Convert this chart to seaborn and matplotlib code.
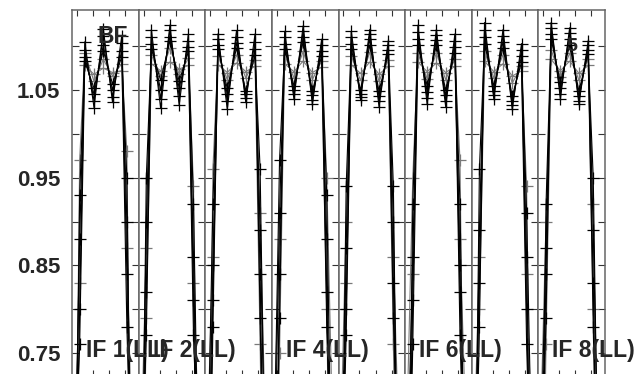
import pandas as pd
import matplotlib
matplotlib.use("Agg")
import matplotlib.pyplot as plt
import seaborn as sns

sns.set_style("white")
plt.rcParams['font.family'] = ['Liberation Sans', 'DejaVu Sans']
plt.rcParams['font.weight'] = 'bold'

# ---------------- DATA ---------------- #
# channel axis shared by every IF (edge channels are the band roll-off)
channels = [0.75, 1.45, 2, 3, 4, 5, 6, 6.55, 7.25]
# one colour per overlaid series (4 black, 2 gray)
series_shade = ["black", "black", "black", "black", "gray", "gray"]

amp_if1 = [[0.42, 0.80, 1.105, 1.030, 1.120, 1.036, 1.112, 0.84, 0.40],
           [0.50, 0.88, 1.096, 1.038, 1.112, 1.042, 1.104, 0.90, 0.46],
           [0.35, 0.93, 1.088, 1.045, 1.101, 1.050, 1.095, 0.78, 0.52],
           [0.55, 0.76, 1.083, 1.052, 1.095, 1.057, 1.088, 0.95, 0.33],
           [0.30, 0.97, 1.092, 1.060, 1.085, 1.066, 1.080, 0.98, 0.28],
           [0.60, 0.83, 1.078, 1.068, 1.075, 1.070, 1.072, 0.87, 0.58]]
amp_if2 = [[0.45, 0.82, 1.119, 1.029, 1.124, 1.033, 1.114, 0.81, 0.38],
           [0.38, 0.90, 1.110, 1.040, 1.118, 1.043, 1.106, 0.92, 0.50],
           [0.52, 0.77, 1.102, 1.050, 1.111, 1.052, 1.099, 0.86, 0.44],
           [0.33, 0.95, 1.097, 1.061, 1.106, 1.060, 1.094, 0.77, 0.57],
           [0.58, 0.87, 1.090, 1.066, 1.098, 1.068, 1.086, 0.94, 0.31],
           [0.27, 0.79, 1.080, 1.072, 1.082, 1.074, 1.078, 0.83, 0.62]]
amp_if3 = [[0.47, 0.85, 1.114, 1.028, 1.118, 1.036, 1.114, 0.79, 0.41],
           [0.36, 0.78, 1.108, 1.037, 1.111, 1.041, 1.105, 0.89, 0.53],
           [0.55, 0.92, 1.101, 1.045, 1.104, 1.046, 1.097, 0.84, 0.37],
           [0.40, 0.81, 1.097, 1.052, 1.098, 1.049, 1.090, 0.96, 0.48],
           [0.31, 0.96, 1.089, 1.062, 1.090, 1.064, 1.084, 0.76, 0.29],
           [0.62, 0.86, 1.079, 1.070, 1.081, 1.071, 1.077, 0.91, 0.60]]
amp_if4 = [[0.44, 0.79, 1.117, 1.040, 1.123, 1.034, 1.108, 0.82, 0.39],
           [0.51, 0.91, 1.110, 1.045, 1.117, 1.039, 1.101, 0.93, 0.47],
           [0.34, 0.84, 1.103, 1.050, 1.110, 1.044, 1.095, 0.78, 0.55],
           [0.57, 0.97, 1.097, 1.055, 1.105, 1.049, 1.089, 0.88, 0.32],
           [0.29, 0.75, 1.090, 1.064, 1.094, 1.062, 1.083, 0.95, 0.63],
           [0.63, 0.88, 1.080, 1.071, 1.083, 1.070, 1.076, 0.80, 0.27]]
amp_if5 = [[0.40, 0.87, 1.117, 1.039, 1.119, 1.031, 1.106, 0.83, 0.45],
           [0.53, 0.80, 1.110, 1.042, 1.114, 1.037, 1.101, 0.94, 0.36],
           [0.37, 0.94, 1.103, 1.046, 1.108, 1.043, 1.096, 0.79, 0.52],
           [0.48, 0.77, 1.097, 1.050, 1.101, 1.049, 1.091, 0.90, 0.42],
           [0.60, 0.90, 1.089, 1.061, 1.093, 1.060, 1.084, 0.76, 0.30],
           [0.28, 0.83, 1.079, 1.069, 1.082, 1.068, 1.077, 0.86, 0.61]]
amp_if6 = [[0.43, 0.81, 1.124, 1.034, 1.119, 1.031, 1.114, 0.85, 0.37],
           [0.35, 0.92, 1.116, 1.041, 1.113, 1.038, 1.106, 0.77, 0.51],
           [0.56, 0.86, 1.108, 1.048, 1.107, 1.044, 1.099, 0.92, 0.44],
           [0.41, 0.76, 1.101, 1.055, 1.101, 1.050, 1.092, 0.82, 0.58],
           [0.64, 0.95, 1.092, 1.063, 1.092, 1.062, 1.085, 0.97, 0.33],
           [0.26, 0.84, 1.082, 1.071, 1.081, 1.070, 1.077, 0.88, 0.64]]
amp_if7 = [[0.46, 0.78, 1.127, 1.040, 1.119, 1.028, 1.103, 0.80, 0.42],
           [0.39, 0.89, 1.119, 1.044, 1.112, 1.033, 1.096, 0.91, 0.55],
           [0.54, 0.83, 1.111, 1.049, 1.105, 1.038, 1.089, 0.86, 0.35],
           [0.32, 0.96, 1.103, 1.055, 1.098, 1.043, 1.082, 0.76, 0.49],
           [0.59, 0.86, 1.094, 1.064, 1.090, 1.058, 1.077, 0.94, 0.30],
           [0.30, 0.80, 1.083, 1.071, 1.080, 1.066, 1.072, 0.84, 0.60]]
amp_if8 = [[0.44, 0.84, 1.127, 1.040, 1.121, 1.034, 1.106, 0.78, 0.40],
           [0.52, 0.79, 1.121, 1.046, 1.115, 1.038, 1.101, 0.89, 0.54],
           [0.37, 0.92, 1.114, 1.052, 1.108, 1.043, 1.096, 0.83, 0.36],
           [0.58, 0.87, 1.108, 1.059, 1.101, 1.049, 1.091, 0.95, 0.47],
           [0.31, 0.76, 1.096, 1.065, 1.092, 1.061, 1.085, 0.80, 0.62],
           [0.62, 0.90, 1.085, 1.072, 1.083, 1.069, 1.078, 0.92, 0.29]]

if_amps = [amp_if1, amp_if2, amp_if3, amp_if4, amp_if5, amp_if6, amp_if7, amp_if8]
if_labels = ["IF 1(LL)", "IF 2(LL)", "", "IF 4(LL)", "", "IF 6(LL)", "", "IF 8(LL)"]
y_ticks = [0.75, 0.80, 0.85, 0.90, 0.95, 1.00, 1.05, 1.10]
y_ticklabels = ["0.75", "", "0.85", "", "0.95", "", "1.05", ""]
x_ticks = [1.16, 2.89, 4.62, 6.35]

rows = []
for i, amps in enumerate(if_amps):
    for s, vals in enumerate(amps):
        for c, v in zip(channels, vals):
            rows.append({"IF": i + 1, "series": s, "shade": series_shade[s],
                         "chan": c, "amp": v})
df = pd.DataFrame(rows)

# ---------------- PLOT ---------------- #
fig, axes = plt.subplots(1, 8, sharey=True, figsize=(6.42, 3.74), dpi=100,
                         gridspec_kw=dict(wspace=0))
fig.subplots_adjust(left=72 / 642, right=605 / 642, top=1 - 10 / 374, bottom=-2 / 374)

colors = {"gray": "#7a7a7a", "black": "black"}
for i, ax in enumerate(axes):
    sub = df[df["IF"] == i + 1]
    for shade in ["gray", "black"]:
        part = sub[sub["shade"] == shade]
        sns.lineplot(data=part, x="chan", y="amp", units="series", estimator=None,
                     sort=False, color=colors[shade], marker="+", markersize=8.5,
                     markeredgewidth=0.9, markeredgecolor=colors[shade],
                     linewidth=0.8, legend=False, ax=ax)
    ax.set_xlim(0.622, 7.82)
    ax.set_ylim(0.7238, 1.1413)
    ax.set_xticks(x_ticks)
    ax.set_xticklabels([])
    ax.set_yticks(y_ticks)
    ax.set_xlabel("")
    ax.set_ylabel("")
    ax.tick_params(axis="x", direction="in", top=True, bottom=True, length=4.5,
                   width=0.8, color="#333333")
    ax.tick_params(axis="y", direction="in", left=True, right=True, length=5,
                   width=0.8, color="#333333", labelleft=(i == 0), pad=8.5,
                   labelsize=16)
    for sp in ax.spines.values():
        sp.set_color("#666666")
        sp.set_linewidth(1.1)
    # figure-level text so the next panel does not paint over it
    if if_labels[i]:
        fig.text(0.622 + 14 / 9.25, 0.7455, if_labels[i], fontsize=16.5,
                 fontweight="bold", va="baseline", ha="left",
                 transform=ax.transData)

axes[0].set_yticklabels(y_ticklabels, fontweight="bold")
fig.text(0.622 + 25 / 9.25, 1.1036, "BF", fontsize=16.5, fontweight="bold",
         va="baseline", ha="left", transform=axes[0].transData)
fig.text(0.622 + 28 / 9.25, 1.094, "5", fontsize=14, fontweight="bold",
         va="baseline", ha="left", transform=axes[7].transData)

fig.savefig("out.png", dpi=100)
